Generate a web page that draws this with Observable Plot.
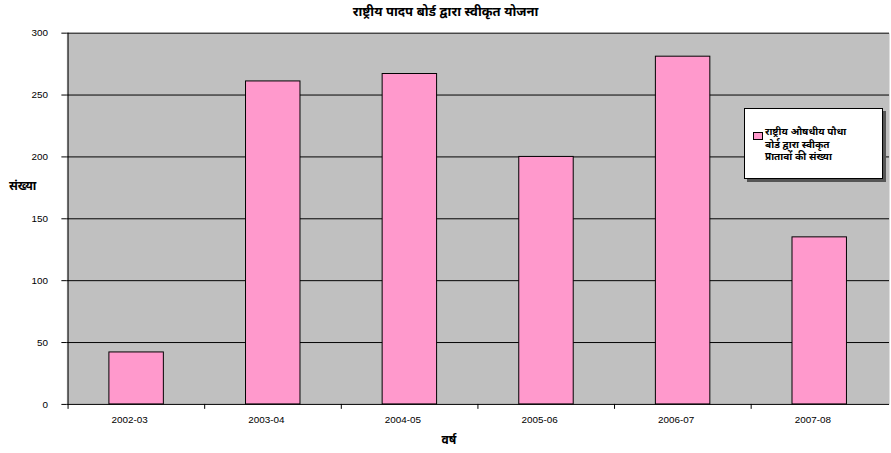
<!DOCTYPE html>
<html>
<head>
<meta charset="utf-8">
<script src="https://cdn.jsdelivr.net/npm/d3@7"></script>
<script src="https://cdn.jsdelivr.net/npm/@observablehq/plot@0.6"></script>
<style>
  html, body { margin: 0; padding: 0; background: #fff; overflow: hidden; }
  body { font-family: Arial, "Liberation Sans", "Noto Sans", sans-serif; }
  #wrap { position: relative; width: 891px; height: 453px; overflow: hidden; }
  #wrap svg { position: absolute; left: 0; top: 0; }
  .lbl { position: absolute; font-weight: bold; color: #000; white-space: nowrap; }
  #title { left: 0; width: 891px; text-align: center; top: 2px; font-size: 13px; }
  #ylab { left: 9px; top: 177px; font-size: 12px; }
  #xlab { left: 0; width: 898px; text-align: center; top: 431px; font-size: 12px; }
  #legend { position: absolute; left: 744px; top: 108px; width: 139px; height: 71px;
            background: #fff; border: 1px solid #000; box-shadow: 3px 3px 0 #555; box-sizing: border-box; }
  #legend .sw { position: absolute; left: 8px; top: 23px; width: 8px; height: 6px; background: #ff99cc; border: 1px solid #000; }
  #legend .tx { position: absolute; left: 20px; top: 17px; font-size: 10px; font-weight: bold; line-height: 12.5px; }
</style>
</head>
<body>
<div id="wrap"></div>
<script>
const title = "राष्ट्रीय पादप बोर्ड द्वारा स्वीकृत योजना";
const yAxisLabel = "संख्या";
const xAxisLabel = "वर्ष";
const seriesName = ["राष्ट्रीय औषधीय पौधा", "बोर्ड द्वारा स्वीकृत", "प्रातावों की संख्या"];
const years = ["2002-03", "2003-04", "2004-05", "2005-06", "2006-07", "2007-08"];
const counts = [42, 261, 267, 200, 281, 135];
const yTicks = [0, 50, 100, 150, 200, 250, 300];

const data = years.map((year, i) => ({year, count: counts[i]}));

const W = 900, H = 453, ML = 67, MR = 2, MT = 33, MB = 45;
const step = (W - ML - MR) / years.length;
const font = 'Arial, "Liberation Sans", "Noto Sans", sans-serif';

const chart = Plot.plot({
  width: W, height: H,
  marginLeft: ML, marginRight: MR, marginTop: MT, marginBottom: MB,
  style: {fontFamily: font, fontSize: "10px", background: "transparent", color: "#000"},
  x: {domain: years, paddingInner: 0.6, paddingOuter: 0.3, axis: null, label: null},
  y: {domain: [0, 300], axis: null, label: null},
  marks: [
    Plot.frame({fill: "#c0c0c0", stroke: null}),
    Plot.ruleY(yTicks, {stroke: "#000", strokeWidth: 1}),
    Plot.barY(data, {x: "year", y: "count", fill: "#ff99cc", stroke: "#000", strokeWidth: 1}),
    Plot.ruleX([years[0]], {dx: -step / 2, stroke: "#000"}),
    Plot.ruleX(years, {dx: -step / 2, y1: -4, y2: 0, stroke: "#000"}),
    Plot.axisY(yTicks, {tickSize: 5, tickPadding: 14, fill: "#000", stroke: "#000", fontSize: 10}),
    Plot.axisX(years, {tickSize: 0, tickPadding: 12, dx: -7, fill: "#000", fontSize: 10})
  ]
});

const wrap = document.getElementById("wrap");
wrap.appendChild(chart);

function addLabel(id, text) {
  const d = document.createElement("div");
  d.id = id; d.className = "lbl"; d.textContent = text;
  wrap.appendChild(d);
}
addLabel("title", title);
addLabel("ylab", yAxisLabel);
addLabel("xlab", xAxisLabel);

const legend = document.createElement("div");
legend.id = "legend";
const sw = document.createElement("div"); sw.className = "sw";
const tx = document.createElement("div"); tx.className = "tx";
tx.innerHTML = seriesName.join("<br>");
legend.appendChild(sw); legend.appendChild(tx);
wrap.appendChild(legend);
</script>
</body>
</html>
